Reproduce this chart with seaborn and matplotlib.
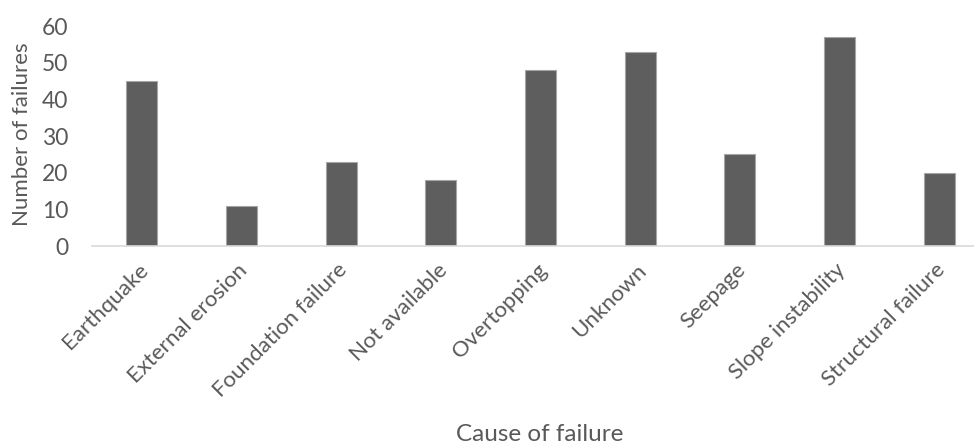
import matplotlib
matplotlib.use("Agg")
import matplotlib.pyplot as plt
import matplotlib.transforms as mtransforms
import seaborn as sns
import pandas as pd

causes = ["Earthquake", "External erosion", "Foundation failure", "Not available",
          "Overtopping", "Unknown", "Seepage", "Slope instability", "Structural failure"]
failures = [45, 11, 23, 18, 48, 53, 25, 57, 20]
y_ticks = [0, 10, 20, 30, 40, 50, 60]

sns.set_theme(style="white")
plt.rcParams["font.family"] = ["Lato", "DejaVu Sans"]

text_color = "#595959"
df = pd.DataFrame({"cause": causes, "failures": failures})

fig = plt.figure(figsize=(9.74, 4.44), dpi=100)
ax = fig.add_axes([92 / 974, 198 / 444, (974 - 92) / 974, 220 / 444])

sns.barplot(data=df, x="cause", y="failures", color="#5e5e5e", width=0.31,
            saturation=1, edgecolor="#a6a6a6", linewidth=0.8, ax=ax)

ax.set_ylim(0, 60)
ax.set_xlim(-0.5, 8.35)
ax.set_yticks(y_ticks)
ax.set_yticklabels([str(v) for v in y_ticks], fontsize=16.5, color=text_color)
ax.tick_params(axis="y", length=0, pad=17)

ax.set_xticks(range(len(causes)))
ax.set_xticklabels(causes, rotation=45, ha="right", rotation_mode="anchor",
                   fontsize=16, color=text_color)
ax.tick_params(axis="x", length=0, pad=10)
# nudge the slanted category labels a little to the left
shift = mtransforms.ScaledTranslation(-4 / 100, 0, fig.dpi_scale_trans)
for lbl in ax.get_xticklabels():
    lbl.set_transform(lbl.get_transform() + shift)

for side in ["top", "right", "left"]:
    ax.spines[side].set_visible(False)
ax.spines["bottom"].set_color("#d9d9d9")
ax.spines["bottom"].set_linewidth(1.2)

ax.set_ylabel("Number of failures", fontsize=16, color=text_color)
ax.yaxis.set_label_coords(22 / 974, 1 - 134 / 444, transform=fig.transFigure)
ax.yaxis.label.set_va("center")

ax.set_xlabel("Cause of failure", fontsize=17.5, color=text_color)
ax.xaxis.set_label_coords(540 / 974, 1 - 441 / 444, transform=fig.transFigure)
ax.xaxis.label.set_va("baseline")

fig.savefig("out.png", dpi=100, facecolor="white")
